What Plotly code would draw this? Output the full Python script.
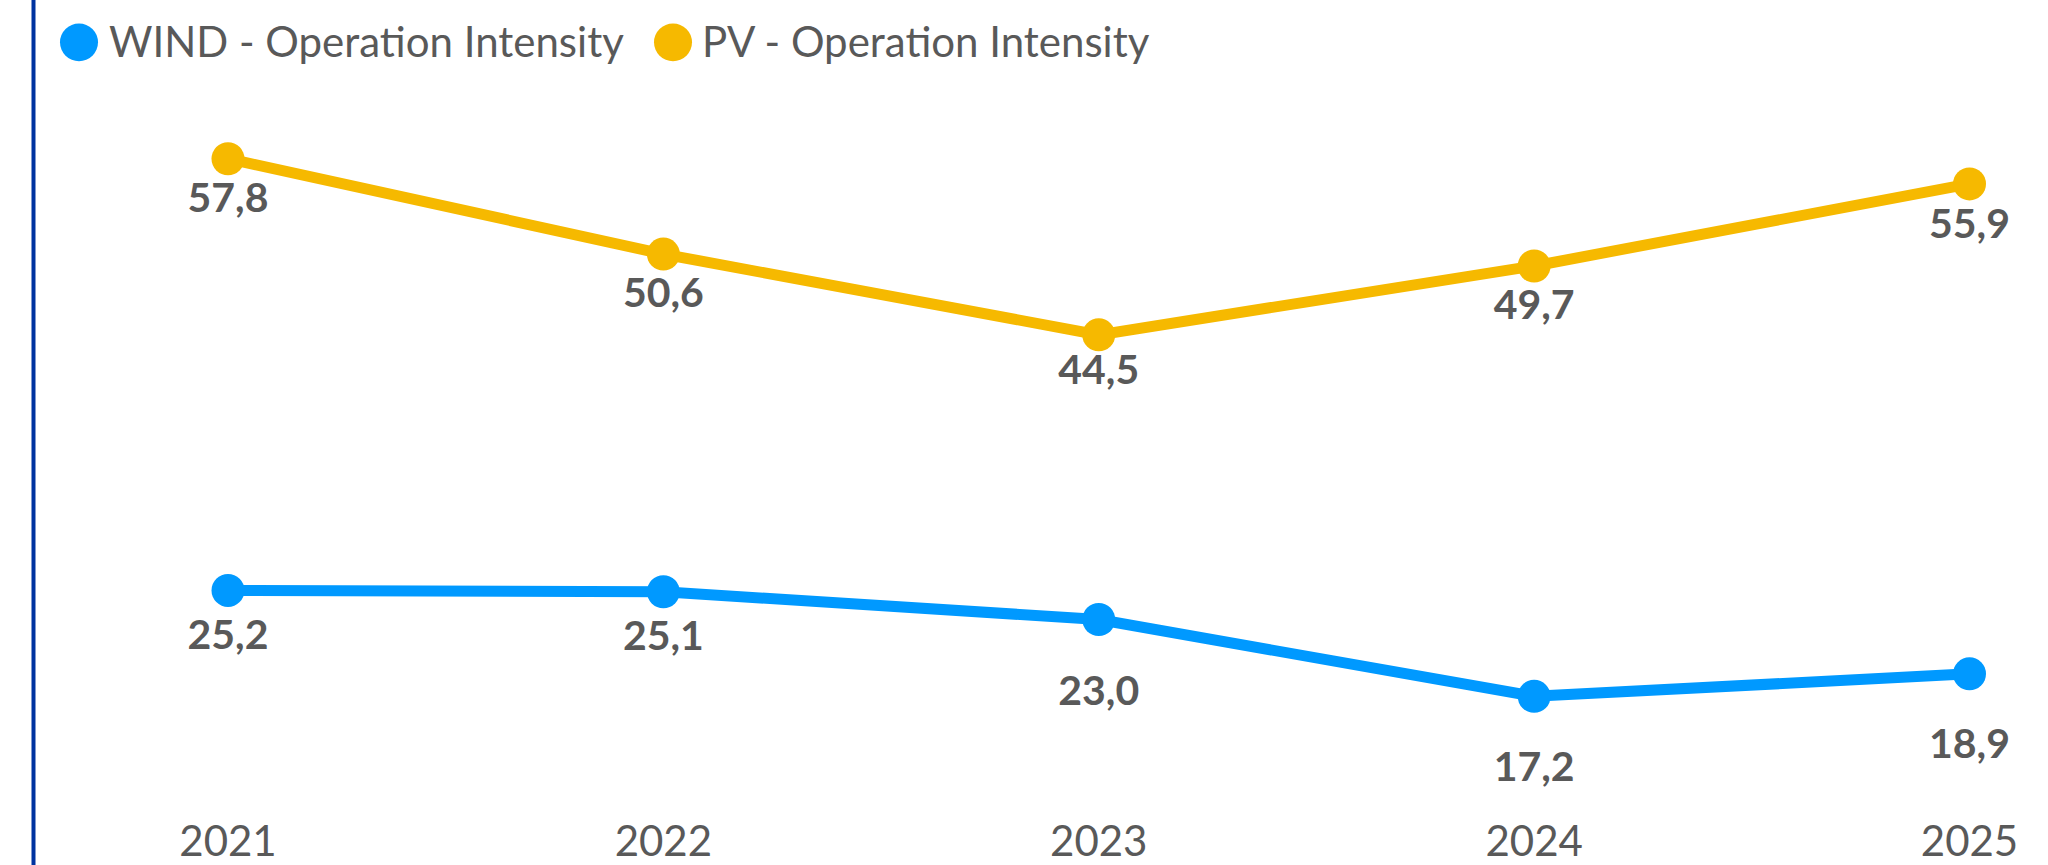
import plotly.graph_objects as go

# ---- data ----
years = ["2021", "2022", "2023", "2024", "2025"]
wind_values = [25.2, 25.1, 23.0, 17.2, 18.9]
pv_values = [57.8, 50.6, 44.5, 49.7, 55.9]
series_names = ["WIND - Operation Intensity", "PV - Operation Intensity"]

# ---- styles ----
WIND_COLOR = "#0099FF"
PV_COLOR = "#F6B900"
TEXT_COLOR = "#595959"
BORDER_COLOR = "#0033A0"
FONT = "Lato"
W, H = 2048, 865
M_T, M_B = 80, 46
PLOT_H = H - M_T - M_B
# pixel distance of the value label centre below its marker
wind_label_offsets = [49, 48, 76, 75, 75]
pv_label_offsets = [43, 43, 39, 43, 44]

slope = 435.4      # px per category step
y_zero = 931.0     # pixel row of value 0
ppu = 13.35        # px per value unit


def px_x(p):
    return p / W


def px_y(p):
    return 1 + (M_T - p) / PLOT_H


fig = go.Figure()
for name, vals, offs, color in [(series_names[0], wind_values, wind_label_offsets, WIND_COLOR),
                                (series_names[1], pv_values, pv_label_offsets, PV_COLOR)]:
    fig.add_trace(go.Scatter(
        x=years, y=vals, mode="lines+markers", name=name,
        line=dict(color=color, width=11),
        marker=dict(color=color, size=33),
        showlegend=False, hoverinfo="x+y",
    ))
    fig.add_trace(go.Scatter(
        x=years, y=[v - o / ppu for v, o in zip(vals, offs)], mode="text",
        text=[f"{v:.1f}".replace(".", ",") for v in vals], textposition="middle center",
        textfont=dict(family=FONT, size=41, color=TEXT_COLOR, weight="bold"),
        showlegend=False, hoverinfo="skip", cliponaxis=False,
    ))

# manual legend (large circular markers)
legend_items = [(series_names[0], WIND_COLOR, 79, 107), (series_names[1], PV_COLOR, 673, 700)]
shapes = [dict(type="line", xref="paper", yref="paper", x0=px_x(33.5), x1=px_x(33.5),
               y0=-1, y1=2, line=dict(color=BORDER_COLOR, width=4))]
annotations = []
for name, color, cx, tx in legend_items:
    shapes.append(dict(type="circle", xref="paper", yref="paper",
                       x0=px_x(cx - 19), x1=px_x(cx + 19), y0=px_y(42 + 19), y1=px_y(42 - 19),
                       fillcolor=color, line=dict(width=0)))
    annotations.append(dict(
        x=px_x(tx), y=px_y(41), xref="paper", yref="paper", text=name, showarrow=False,
        xanchor="left", yanchor="middle",
        font=dict(family=FONT, size=42, color=TEXT_COLOR),
    ))

fig.update_layout(
    width=W, height=H,
    margin=dict(l=0, r=0, t=M_T, b=M_B),
    paper_bgcolor="white", plot_bgcolor="white",
    showlegend=False,
    xaxis=dict(type="category", range=[-228 / slope, 4 + (W - 1969.5) / slope],
               showgrid=False, zeroline=False, showline=False, ticks="",
               tickfont=dict(family=FONT, size=42, color=TEXT_COLOR)),
    yaxis=dict(range=[(y_zero - (H - M_B)) / ppu, (y_zero - M_T) / ppu],
               showticklabels=False, ticks="", showgrid=False, zeroline=False, showline=False),
    annotations=annotations,
    shapes=shapes,
)

fig.write_html("out.html", config={"displayModeBar": False},
               post_script="document.body.style.margin='0';document.body.style.overflow='hidden';")
